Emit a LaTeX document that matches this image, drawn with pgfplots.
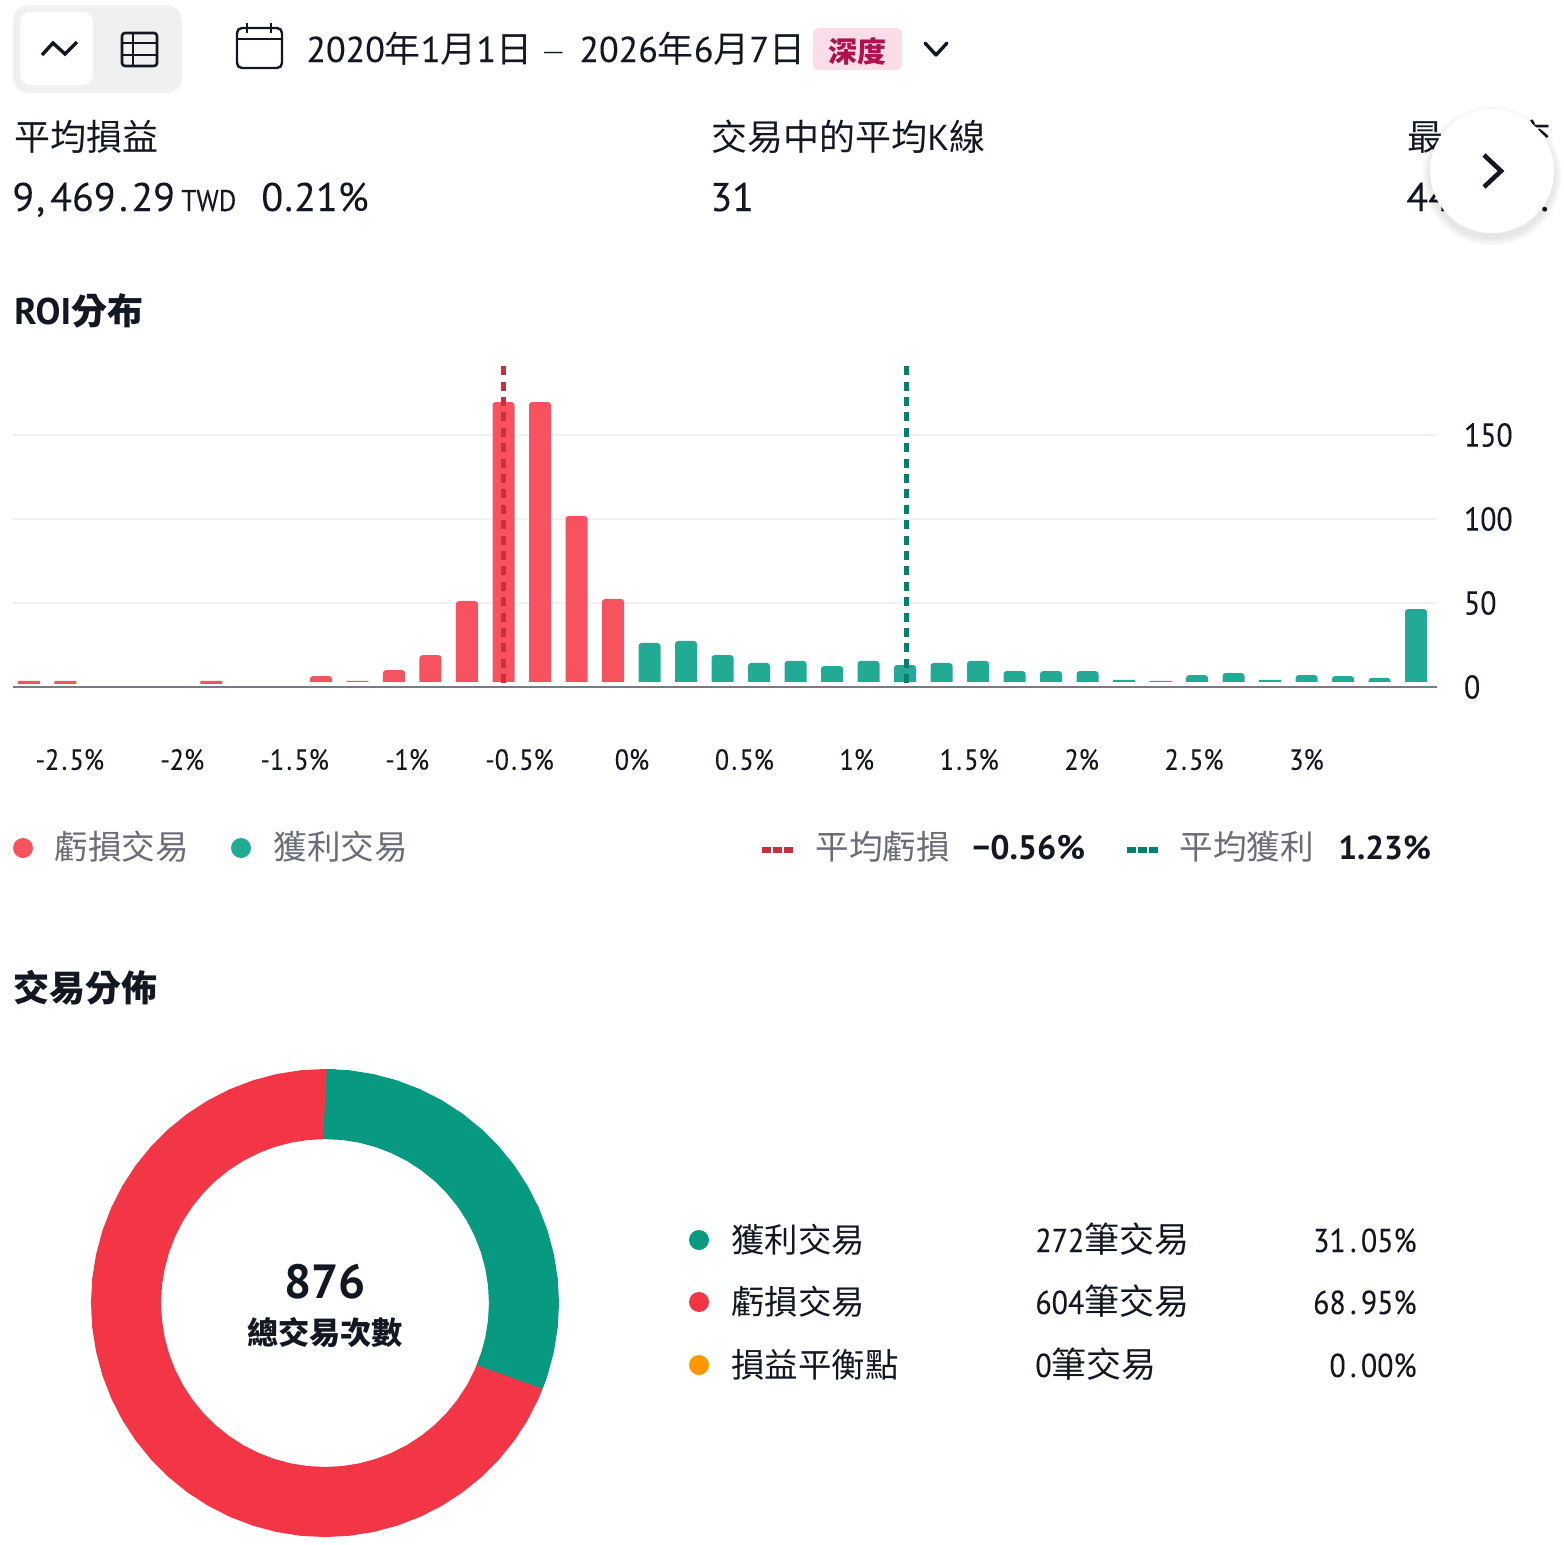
\documentclass[border=0pt]{standalone}
\usepackage{pgfplots}
\pgfplotsset{compat=1.18}
\usepgfplotslibrary{polar}
\usepackage{fontspec}
\setmainfont{PT Sans}
\newfontfamily\nf[FakeStretch=0.9,FakeBold=0.12]{PT Sans}
\newfontfamily\mf[FakeBold=0.12]{PT Sans}
\newfontfamily\cj{Noto Sans CJK TC}
\definecolor{barred}{HTML}{F7525F}
\definecolor{bargreen}{HTML}{22AB94}
\definecolor{donutred}{HTML}{F23645}
\definecolor{donutgreen}{HTML}{089981}
\definecolor{orng}{HTML}{FF9800}
\definecolor{avgred}{HTML}{CC2F3C}
\definecolor{avggreen}{HTML}{06806B}
\definecolor{ink}{HTML}{131722}
\definecolor{graytxt}{HTML}{6A6D78}
\definecolor{gridc}{HTML}{F0F2F6}
\definecolor{axisc}{HTML}{787B86}
\definecolor{tagbg}{HTML}{FBDDE8}
\definecolor{tagfg}{HTML}{B0124F}
\newcommand\T[5][ink]{\node[anchor=base west,inner sep=0pt,text=#1,font=#4] at (#2,#3) {#5};}
\newcommand\R[5][ink]{\node[anchor=base east,inner sep=0pt,text=#1,font=#4] at (#2,#3) {#5};}
\newcommand\C[5][ink]{\node[anchor=base,inner sep=0pt,text=#1,font=#4] at (#2,#3) {#5};}
\newcommand\fs[1]{\fontsize{#1}{#1}\selectfont}
\newcommand\dt[1]{{\fs{18}\cj #1}}
\newcommand\tb[1]{{\fs{17.5}\cj #1}}
\newcommand\pd{\kern1.2pt.\kern1.2pt}
\newcommand\pe{\kern2.2pt.\kern2.2pt}
\begin{document}
\begin{tikzpicture}
\begin{scope}[x=0.5pt,y=-0.5pt]
% toolbar
\fill[black!6,rounded corners=8pt] (13,5) rectangle (182,93);
\fill[white,rounded corners=5pt] (20,12) rectangle (93,85);
\draw[ink,line width=1.7pt,line join=miter] (42,55) -- (53,43) -- (65,54) -- (77,42);
\draw[ink,line width=1.3pt,rounded corners=1.5pt] (122,33) rectangle (157,66);
\draw[ink,line width=1.3pt] (122,43) -- (157,43) (122,55) -- (157,55) (133,33) -- (133,66);
\draw[ink,line width=1.2pt,rounded corners=2.5pt] (237,28) rectangle (282,68);
\draw[ink,line width=1.2pt] (237,39) -- (282,39) (247,23) -- (247,33) (271,23) -- (271,33);
\T{306}{62}{\fs{18}\mf}{2020\dt{年}1\dt{月}1\dt{日}}
\T{543}{59}{\fs{11.5}\cj}{—}
\T{579}{62}{\fs{18}\mf}{2026\dt{年}6\dt{月}7\dt{日}}
\fill[tagbg,rounded corners=3pt] (813,28) rectangle (902,70);
\T[tagfg]{828}{62}{\fs{14.5}\cj\bfseries}{深度}
\draw[ink,line width=1.7pt,line cap=round,line join=round] (925,43) -- (936,55) -- (947,43);
% metrics
\T{14}{150}{\fs{18}\cj}{平均損益}
\T{711}{150}{\fs{18}\cj}{交易中的平均{\fontspec{PT Sans}K}線}
\T{1407}{150}{\fs{18}\cj}{最大的交}
\T{12}{211}{\fs{20}\mf}{9\kern1pt,\kern2.5pt 469\kern1.8pt.\kern1.8pt 29}
\T{181}{211}{\fs{15}\nf}{TWD}
\T{261}{211}{\fs{20}\mf}{0\kern.6pt.\kern.6pt 21\%}
\T{710}{211}{\fs{20}\mf}{31}
\T{1406}{211}{\fs{20}\mf}{44}
\T{1540}{211}{\fs{20}\mf}{.}
% button
\foreach \i in {1,...,8}{\fill[black,opacity=0.012] (1492,176) circle (62+\i);}
\fill[white] (1492,171) circle (62);
\draw[ink,line width=2.3pt,line join=miter] (1484,155) -- (1501,171) -- (1484,187);
% headings
\T{14}{324}{\fs{18.6}\bfseries}{ROI{\fs{18}\cj\bfseries 分布}}
\T{13}{1001}{\fs{18}\cj\bfseries}{交易分佈}
% legend histogram
\fill[barred] (23,848) circle (10);
\fill[bargreen] (241,848) circle (10);
\T[graytxt]{54}{859}{\fs{16.8}\cj}{虧損交易}
\T[graytxt]{273}{859}{\fs{16.8}\cj}{獲利交易}
\draw[avgred,line width=3pt,dash pattern=on 4.3pt off 1.3pt] (762,850) -- (793,850);
\draw[avggreen,line width=3pt,dash pattern=on 4.3pt off 1.3pt] (1127,850) -- (1158,850);
\T[graytxt]{815}{859}{\fs{16.8}\cj}{平均虧損}
\T[graytxt]{1179}{859}{\fs{16.8}\cj}{平均獲利}
\T{972}{859}{\fs{17}\bfseries}{−0.56\%}
\T{1338}{859}{\fs{16.6}\bfseries}{1.23\%}
% donut legend
\fill[donutgreen] (699,1240) circle (10);
\fill[donutred] (699,1302) circle (10);
\fill[orng] (699,1365) circle (10);
\T{731}{1252}{\fs{16.7}\cj}{獲利交易}
\T{731}{1314}{\fs{16.7}\cj}{虧損交易}
\T{731}{1377}{\fs{16.7}\cj}{損益平衡點}
\T{1035}{1252}{\fs{16.6}\nf}{272\tb{筆交易}}
\T{1035}{1314}{\fs{16.6}\nf}{604\tb{筆交易}}
\T{1035}{1377}{\fs{16.6}\nf}{0\tb{筆交易}}
\R{1417}{1252}{\fs{16.6}\nf}{31\pe 05\%}
\R{1417}{1314}{\fs{16.6}\nf}{68\pe 95\%}
\R{1417}{1377}{\fs{16.6}\nf}{0\pe 00\%}
\end{scope}
% histogram
\begin{axis}[
  at={(6.5pt,-343.5pt)},anchor=south west,
  scale only axis,width=712pt,height=163.5pt,
  xmin=-0.438,xmax=38.575,ymin=0,ymax=194.64,
  clip=false,
  axis x line*=bottom,axis y line*=right,
  axis line style={draw=none},
  tick style={draw=none},
  xtick={1.12,4.2,7.28,10.36,13.44,16.52,19.6,22.68,25.76,28.84,31.92,35.0},
  xticklabels={-2\pd 5\%,-2\%,-1\pd 5\%,-1\%,-0\pd 5\%,0\%,0\pd 5\%,1\%,1\pd 5\%,2\%,2\pd 5\%,3\%},
  ytick={0,50,100,150},
  ymajorgrids,
  grid style={gridc,line width=0.6pt},
  /pgf/number format/assume math mode=true,
  xticklabel style={font=\fs{14.5}\nf,text=ink,yshift=-27.5pt},
  yticklabel style={font=\fs{16.5}\nf,text=ink,anchor=west,xshift=10pt},
  yticklabel pos=right,
]
\addplot[ybar,bar width=11pt,bar shift=0pt,fill=barred,draw=none] coordinates {(0,3.6)(1,3.6)(5,3.6)(9,3.6)};
\addplot[ybar,bar width=11pt,bar shift=0pt,fill=bargreen,draw=none] coordinates {(30,4.2)(31,3.6)(34,4.2)};
\addplot[ybar,bar width=11pt,bar shift=0pt,fill=barred,draw=none,rounded corners=1.5pt] coordinates {(8,6.5)(10,10.1)(11,19)(12,51.2)(13,169.6)(14,169.6)(15,101.8)(16,52.4)};
\addplot[ybar,bar width=11pt,bar shift=0pt,fill=bargreen,draw=none,rounded corners=1.5pt] coordinates {(17,26.2)(18,27.4)(19,19)(20,14.3)(21,15.5)(22,12.5)(23,15.5)(24,13.1)(25,14.3)(26,15.5)(27,9.5)(28,9.5)(29,9.5)(32,7.1)(33,8.3)(35,7.1)(36,6.5)(37,5.4)(38,46.4)};
\fill[white] (axis cs:-0.438,0.3) rectangle (axis cs:38.575,1.8);
\fill[white] (axis cs:5.5,1.8) rectangle (axis cs:38.575,3);
\addplot[axisc,line width=1pt] coordinates {(-0.438,0)(38.575,0)};
\addplot[avgred,line width=2.4pt,dash pattern=on 4.5pt off 3.2pt] coordinates {(13.01,191)(13.01,0)};
\addplot[avggreen,line width=2.4pt,dash pattern=on 4.5pt off 3.2pt] coordinates {(24.05,191)(24.05,0)};
\end{axis}
% donut
\begin{polaraxis}[
  at={(162.5pt,-651.5pt)},anchor=center,
  scale only axis,width=234pt,height=234pt,
  ymin=0,ymax=234,hide axis,clip=false,
]
\addplot[donutred,line width=35pt,line cap=butt] coordinates {(-18,199)(-24,199)(-30,199)(-36,199)(-42,199)(-48,199)(-54,199)(-60,199)(-66,199)(-72,199)(-78,199)(-84,199)(-90,199)(-96,199)(-102,199)(-108,199)(-114,199)(-120,199)(-126,199)(-132,199)(-138,199)(-144,199)(-150,199)(-156,199)(-162,199)(-168,199)(-174,199)(-180,199)(-186,199)(-192,199)(-198,199)(-204,199)(-210,199)(-216,199)(-222,199)(-228,199)(-234,199)(-240,199)(-246,199)(-252,199)(-258,199)(-264,199)(-270,199)(-273,199)};
\addplot[donutgreen,line width=35pt,line cap=butt] coordinates {(90,199)(84,199)(78,199)(72,199)(66,199)(60,199)(54,199)(48,199)(42,199)(36,199)(30,199)(24,199)(18,199)(12,199)(6,199)(0,199)(-6,199)(-12,199)(-18,199)(-21.8,199)};
\end{polaraxis}
\begin{scope}[x=0.5pt,y=-0.5pt]
\C{325}{1298}{\fs{24}\bfseries}{876}
\C{325}{1344}{\fs{15.6}\cj\bfseries}{總交易次數}
\end{scope}
\pgfresetboundingbox
\path[use as bounding box] (0pt,0pt) rectangle (782pt,-772pt);
\end{tikzpicture}
\end{document}
